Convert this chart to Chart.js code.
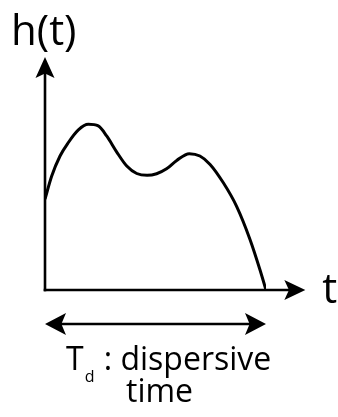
<!DOCTYPE html>
<html>
<head>
<meta charset="utf-8">
<script src="https://cdn.jsdelivr.net/npm/chart.js@4"></script>
<style>
	html, body { margin: 0; padding: 0; background: #fff; }
	#wrap { width: 338px; height: 417px; position: relative; }
</style>
</head>
<body>
<div id="wrap"><canvas id="impulse"></canvas></div>
<script>
// impulse response h(t), sampled over the dispersive time (t = 0 .. Td)
const times = [
	0, 0.3, 0.68, 1.05, 1.51, 1.96, 2.41, 2.79, 3.24, 3.7, 4.15, 4.62, 5.05,
	5.5, 5.96, 6.53, 7.01, 7.47, 8.07, 8.67, 9.28, 9.73, 10,
];
const response = [
	3.9, 4.88, 5.75, 6.32, 6.87, 7.11, 7.04, 6.61, 5.93, 5.32, 5.0, 4.92, 4.99,
	5.2, 5.56, 5.85, 5.75, 5.39, 4.6, 3.59, 2.16, 0.86, 0,
];
const Td = 10;

const yAxisLabel = "h(t)";
const xAxisLabel = "t";
const spanLabel = ["T", "d", " : dispersive", "time"];

const points = times.map((t, i) => ({ x: t, y: response[i] }));

function arrowHead(ctx, tipX, tipY, dirX, dirY, len, half) {
	// concave-backed head pointing along (dirX, dirY)
	const nx = -dirY, ny = dirX;
	const bx = tipX - dirX * len, by = tipY - dirY * len;
	const notchX = tipX - dirX * len * 0.78, notchY = tipY - dirY * len * 0.78;
	ctx.beginPath();
	ctx.moveTo(tipX, tipY);
	ctx.lineTo(bx + nx * half, by + ny * half);
	ctx.lineTo(notchX, notchY);
	ctx.lineTo(bx - nx * half, by - ny * half);
	ctx.closePath();
	ctx.fill();
}

const sketchAxes = {
	id: "sketchAxes",
	afterDatasetsDraw(chart, args, opts) {
		const ctx = chart.ctx;
		const xs = chart.scales.x, ys = chart.scales.y;
		const x0 = xs.getPixelForValue(0);
		const y0 = ys.getPixelForValue(0);
		const yTop = ys.getPixelForValue(opts.yEnd);
		const xEnd = xs.getPixelForValue(opts.xEnd);
		const xTd = xs.getPixelForValue(Td);

		ctx.save();
		ctx.strokeStyle = "#000";
		ctx.fillStyle = "#000";
		ctx.lineWidth = 2.6;
		ctx.lineCap = "butt";

		// y axis
		ctx.beginPath();
		ctx.moveTo(x0, y0 + 1.3);
		ctx.lineTo(x0, yTop + 16);
		ctx.stroke();
		arrowHead(ctx, x0, yTop, 0, -1, 21, 9.5);

		// x axis
		ctx.beginPath();
		ctx.moveTo(x0 - 1.3, y0);
		ctx.lineTo(xEnd - 16, y0);
		ctx.stroke();
		arrowHead(ctx, xEnd, y0, 1, 0, 21, 10);

		// double arrow spanning Td
		const yd = y0 + opts.spanGap;
		ctx.beginPath();
		ctx.moveTo(x0 + 14, yd);
		ctx.lineTo(xTd - 14, yd);
		ctx.stroke();
		arrowHead(ctx, x0, yd, -1, 0, 21, 11);
		arrowHead(ctx, xTd, yd, 1, 0, 21, 11);

		// labels
		ctx.textBaseline = "alphabetic";
		ctx.textAlign = "left";
		ctx.font = "42px 'Open Sans'";
		ctx.fillText(yAxisLabel, 11, 45);
		ctx.fillText(xAxisLabel, xEnd + 17, 303);

		ctx.font = "32px 'Open Sans'";
		let tx = 66;
		const base = 370;
		ctx.fillText(spanLabel[0], tx, base);
		tx += ctx.measureText(spanLabel[0]).width;
		ctx.font = "16px 'Open Sans'";
		ctx.fillText(spanLabel[1], tx + 1, base + 12);
		tx += ctx.measureText(spanLabel[1]).width + 2;
		ctx.font = "32px 'Open Sans'";
		ctx.fillText(spanLabel[2], tx, base);
		ctx.fillText(spanLabel[3], 126, base + 32);
		ctx.restore();
	},
};

new Chart(document.getElementById("impulse"), {
	type: "line",
	data: {
		datasets: [
			{
				data: points,
				borderColor: "#000",
				borderWidth: 3,
				pointRadius: 0,
				cubicInterpolationMode: "monotone",
				fill: false,
			},
		],
	},
	options: {
		responsive: true,
		maintainAspectRatio: false,
		animation: false,
		layout: {
			padding: { left: 45, right: 72, top: 57, bottom: 127 },
		},
		scales: {
			x: { type: "linear", min: 0, max: Td, display: false },
			y: { type: "linear", min: 0, max: 10, display: false },
		},
		plugins: {
			legend: { display: false },
			tooltip: { enabled: false },
			sketchAxes: { xEnd: 11.78, yEnd: 10, spanGap: 34 },
		},
	},
	plugins: [sketchAxes],
});
</script>
</body>
</html>
